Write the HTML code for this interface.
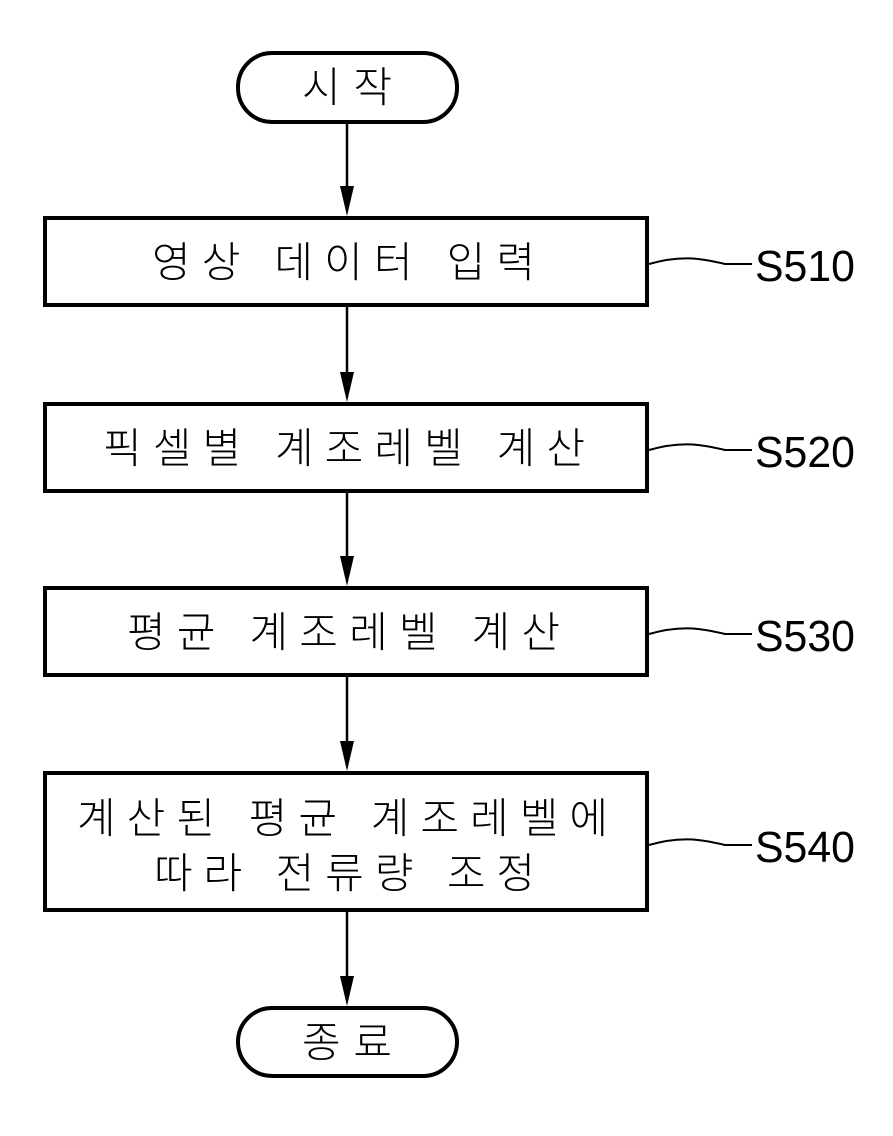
<!DOCTYPE html>
<html><head><meta charset="utf-8"><style>
html,body{margin:0;padding:0;background:#fff}
svg{display:block}
.k{font-family:"Liberation Sans","Noto Sans CJK KR","NanumGothic",sans-serif;font-size:42px;font-weight:300}
.l{font-family:"Liberation Sans",sans-serif;font-size:44px}
</style></head><body>
<svg width="893" height="1136" viewBox="0 0 893 1136" xmlns="http://www.w3.org/2000/svg">
<g fill="none" stroke="#000" stroke-width="4">
<rect x="238" y="53" width="219" height="69" rx="34"/>
<rect x="238" y="1008" width="219" height="68" rx="34"/>
<rect x="45" y="218" width="602" height="87"/>
<rect x="45" y="404" width="602" height="87"/>
<rect x="45" y="588" width="602" height="87"/>
<rect x="45" y="773" width="602" height="137"/>
</g>
<g stroke="#000" stroke-width="2.5">
<line x1="347" y1="122" x2="347" y2="190"/>
<line x1="347" y1="305" x2="347" y2="376"/>
<line x1="347" y1="491" x2="347" y2="560"/>
<line x1="347" y1="675" x2="347" y2="745"/>
<line x1="347" y1="910" x2="347" y2="980"/>
</g>
<g fill="#000">
<polygon points="340,186 354,186 347,216"/>
<polygon points="340,372 354,372 347,402"/>
<polygon points="340,556 354,556 347,586"/>
<polygon points="340,741 354,741 347,771"/>
<polygon points="340,976 354,976 347,1006"/>
</g>
<g fill="none" stroke="#000" stroke-width="2">
<path d="M649,264 C680,255 700,258 725,264 L752,264"/>
<path d="M649,450 C680,441 700,444 725,450 L752,450"/>
<path d="M649,634 C680,625 700,628 725,634 L752,634"/>
<path d="M649,845 C680,836 700,839 725,845 L752,845"/>
</g>
<g class="l">
<text x="755" y="281" textLength="100" lengthAdjust="spacingAndGlyphs">S510</text>
<text x="755" y="467" textLength="100" lengthAdjust="spacingAndGlyphs">S520</text>
<text x="755" y="651" textLength="100" lengthAdjust="spacingAndGlyphs">S530</text>
<text x="755" y="862" textLength="100" lengthAdjust="spacingAndGlyphs">S540</text>
</g>
<g class="k">
<text x="302" y="102" textLength="90" lengthAdjust="spacing">시작</text>
<text x="302" y="1057" textLength="90" lengthAdjust="spacing">종료</text>
<text x="152" y="277" textLength="383" lengthAdjust="spacing">영상 데이터 입력</text>
<text x="103" y="463" textLength="482" lengthAdjust="spacing">픽셀별 계조레벨 계산</text>
<text x="127" y="647" textLength="433" lengthAdjust="spacing">평균 계조레벨 계산</text>
<text x="77" y="833" textLength="531" lengthAdjust="spacing">계산된 평균 계조레벨에</text>
<text x="154" y="888" textLength="381" lengthAdjust="spacing">따라 전류량 조정</text>
</g>
</svg>
</body></html>
